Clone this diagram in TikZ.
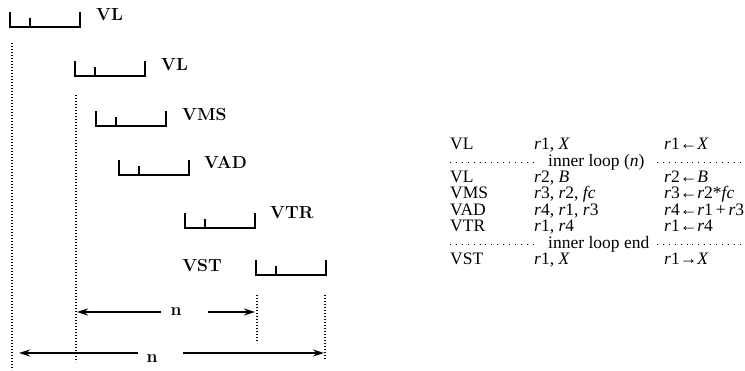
\documentclass[tikz,border=0pt]{standalone}
\usepackage{fontspec}
\newfontfamily\tabfont{Liberation Serif}
\usetikzlibrary{arrows.meta, positioning}

\begin{document}
\begin{tikzpicture}[x=1pt, y=-1pt,
        every node/.style={inner sep=0pt},
        stagebar/.pic={\draw[line width=2pt] (0,-15) -- (0,0) -- (70,0) -- (70,-15)
          (20,0) -- (20,-9);},
        oplabel/.style={font=\fontsize{17.5}{20}\selectfont\bfseries},
        guide/.style={line width=1.4pt, dash pattern=on 1pt off 2pt},
        span/.style={line width=1.3pt, -{Stealth[length=11pt, width=7pt]}},
        tabtext/.style={font=\tabfont\fontsize{17.5}{20}\selectfont, anchor=base west},
        tabdots/.style={line width=1pt, dash pattern=on 0.9pt off 5pt},
      ]

      \useasboundingbox (0,0) rectangle (745,370);

      % pipeline of the vector instructions
      \pic at (10,27) {stagebar};
      \pic at (75,76) {stagebar};
      \pic at (96,126) {stagebar};
      \pic at (119,175) {stagebar};
      \pic at (185,228) {stagebar};
      \pic at (256,275) {stagebar};

      \node[oplabel, anchor=west] (vl1) at (96,15) {VL};
      \node[oplabel, anchor=west] (vl2) at (161,65) {VL};
      \node[oplabel, anchor=west] (vms) at (182,114) {VMS};
      \node[oplabel, anchor=west] (vad) at (204,162.5) {VAD};
      \node[oplabel, anchor=west] (vtr) at (270,213) {VTR};
      \node[oplabel, anchor=east] (vst) at (222,265) {VST};

      % dotted guides
      \draw[guide] (12,43) -- (12,370);
      \draw[guide] (76,95) -- (76,362);
      \draw[guide] (257,295) -- (257,343);
      \draw[guide] (325,295) -- (325,360);

      % loop lengths
      \coordinate (a1) at (77,312);
      \coordinate (b1) at (255,312);
      \coordinate (a2) at (19,353);
      \coordinate (b2) at (324,353);
      \node[oplabel] (n1) at (176,312) {n};
      \node[oplabel, anchor=base] (n2) at (152,362) {n};
      \draw[span, shorten <=9pt] (n1.west |- a1) -- (a1);
      \draw[span, shorten <=26pt] (n1.east |- b1) -- (b1);
      \draw[span, shorten <=8pt] (n2.west |- a2) -- (a2);
      \draw[span, shorten <=25pt] (n2.east |- b2) -- (b2);

      % instruction listing
      \node[tabtext] (op1) at (450,149.6) {VL};
      \node[tabtext] (arg1) at (534,149.6) {\textit{r}1, \textit{X}};
      \node[tabtext] (eff1) at (664,149.6) {\textit{r}1←\textit{X}};

      \node[tabtext] (loop) at (548,166) {inner loop (\textit{n})};
      \draw[tabdots] (450,162) -- (536,162);
      \draw[tabdots] (657,162) -- (745,162);

      \node[tabtext] (op2) at (450,182.4) {VL};
      \node[tabtext] (arg2) at (534,182.4) {\textit{r}2, \textit{B}};
      \node[tabtext] (eff2) at (664,182.4) {\textit{r}2←\textit{B}};

      \node[tabtext] (op3) at (450,198.8) {VMS};
      \node[tabtext] (arg3) at (534,198.8) {\textit{r}3, \textit{r}2, \textit{fc}};
      \node[tabtext] (eff3) at (664,198.8) {\textit{r}3←\textit{r}2*\textit{fc}};

      \node[tabtext] (op4) at (450,215.2) {VAD};
      \node[tabtext] (arg4) at (534,215.2) {\textit{r}4, \textit{r}1, \textit{r}3};
      \node[tabtext] (eff4) at (664,215.2) {\textit{r}4←\textit{r}1\,+\,\textit{r}3};

      \node[tabtext] (op5) at (450,231.6) {VTR};
      \node[tabtext] (arg5) at (534,231.6) {\textit{r}1, \textit{r}4};
      \node[tabtext] (eff5) at (664,231.6) {\textit{r}1←\textit{r}4};

      \node[tabtext] (loopend) at (548,248) {inner loop end};
      \draw[tabdots] (450,244) -- (536,244);
      \draw[tabdots] (657,244) -- (745,244);

      \node[tabtext] (op6) at (450,264.4) {VST};
      \node[tabtext] (arg6) at (534,264.4) {\textit{r}1, \textit{X}};
      \node[tabtext] (eff6) at (664,264.4) {\textit{r}1→\textit{X}};

    \end{tikzpicture}
\end{document}
